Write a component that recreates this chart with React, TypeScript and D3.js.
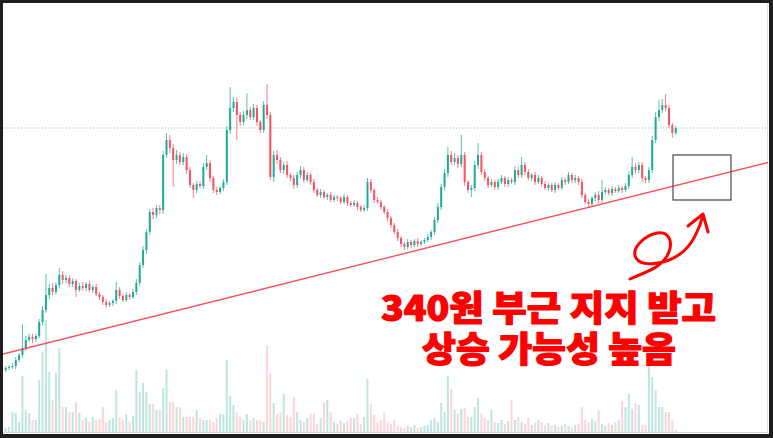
import React from "react";
import * as d3 from "d3";

// ---- data (price units, volume units) ----
const firstOpen = 130;
const closes = [
  132,133,134,140,145,152,160,163,161,164,
  178,190,205,212,208,215,225,220,222,216,
  219,210,214,212,216,210,213,206,203,198,
  195,197,199,210,204,200,205,203,208,217,
  235,250,268,288,285,292,290,345,360,352,
  340,345,338,343,330,315,310,316,314,333,
  337,322,310,308,312,318,370,392,398,385,
  378,385,390,383,392,378,370,395,385,323,
  345,340,330,335,325,322,315,325,330,320,
  325,318,310,305,308,303,305,300,303,302,
  298,303,297,295,297,293,290,292,318,310,
  300,298,293,288,282,275,268,262,256,253,
  258,255,259,256,258,260,263,268,280,293,
  313,327,345,338,342,336,345,318,310,312,
  335,345,328,322,315,318,313,318,322,316,
  320,318,330,325,335,328,322,325,318,322,
  316,312,315,310,315,312,320,318,325,320,
  322,318,305,298,296,302,305,300,308,310,
  307,311,309,312,310,314,325,333,330,335,
  322,320,330,360,383,390,395,392,375,367,
  372,
];
const wickUp = [
  2,2,3,3,2,24,4,3,3,2,
  3,4,21,4,5,3,7,4,3,3,
  3,2,3,4,2,3,2,3,2,2,
  3,2,2,8,3,2,3,2,3,4,
  3,4,3,3,4,3,3,4,7,5,
  4,5,3,4,3,3,2,3,3,4,
  8,3,2,3,2,3,4,21,5,4,
  3,4,17,3,4,3,2,4,21,3,
  4,5,3,3,4,2,3,3,4,3,
  3,2,3,2,3,2,2,3,2,2,
  2,3,2,2,3,2,2,3,4,3,
  2,3,2,2,3,2,2,3,2,2,
  3,2,2,3,2,2,3,2,3,4,
  3,4,8,4,5,3,20,3,2,3,
  4,12,3,3,2,3,2,3,3,2,
  3,2,4,3,8,3,3,2,3,3,
  2,3,2,2,3,2,3,2,3,2,
  3,2,3,2,3,2,3,4,12,3,
  2,3,2,3,2,3,4,10,4,3,
  3,2,3,4,5,10,6,11,3,2,
  2,
];
const wickDown = [
  2,2,2,3,2,3,3,2,4,3,
  2,3,3,4,3,3,3,4,3,3,
  3,7,2,3,3,2,3,2,3,3,
  3,2,3,3,3,2,2,3,2,3,
  3,3,4,3,4,3,4,4,3,5,
  27,4,3,3,4,3,8,3,2,3,
  3,4,3,3,2,3,3,4,4,25,
  4,3,4,3,3,4,3,3,4,3,
  5,4,3,4,3,3,4,3,3,3,
  2,3,3,2,3,2,3,2,2,3,
  2,2,3,2,2,3,2,2,3,3,
  3,2,3,2,3,3,2,3,3,3,
  2,3,2,3,2,2,2,3,3,3,
  3,3,4,3,3,4,3,4,3,7,
  3,4,3,3,3,2,3,3,2,3,
  3,2,3,3,3,3,2,3,3,2,
  3,2,3,2,3,2,2,3,2,3,
  3,3,3,2,3,2,3,3,3,2,
  2,3,2,2,3,2,3,3,4,3,
  4,3,3,3,3,4,3,3,3,5,
  2,
];
const volumes = [
  4,5,20,19,10,56,22,19,12,12,
  52,80,112,60,32,59,84,25,25,20,
  20,30,19,12,14,10,15,12,13,25,
  10,12,14,42,15,12,18,10,16,62,
  40,49,40,28,28,22,22,44,62,30,
  30,25,25,15,15,15,15,22,14,12,
  12,12,10,14,18,18,72,36,27,20,
  15,12,18,12,14,12,12,10,87,59,
  29,18,20,38,17,15,35,20,12,10,
  14,18,18,8,14,30,32,20,10,8,
  12,9,11,14,14,18,8,15,53,28,
  17,10,12,20,10,8,12,6,5,4,
  6,5,7,4,5,6,7,12,14,10,
  29,20,56,43,22,18,23,24,15,15,
  25,34,18,14,12,22,10,9,12,8,
  11,32,12,15,10,8,14,7,9,12,
  10,7,9,6,7,5,6,8,6,5,
  7,8,25,12,10,13,11,22,8,6,
  9,7,10,12,31,25,38,23,29,27,
  7,7,70,55,42,25,25,20,20,12,
  2,
];
// drawings (bar index, price)
const trendIdx = [-0.8, 228.1];
const trendPrice = [146, 338];
const boxIdx = [199.2, 216.5];
const boxPrice = [345, 300];
const noteLines = ["340원 부근 지지 받고", "상승 가능성 높음"];

const W = 773;
const H = 438;
const UP = "#22ab94";
const DOWN = "#f7525f";

export default function App() {
  const N = closes.length;
  const x = d3.scaleLinear().domain([0, N - 1]).range([5.7, 675.7]);
  const y = d3.scaleLinear().domain([100, 500]).range([400, 0]);
  const yv = d3.scaleLinear().domain([0, 100]).range([432, 332]);

  const candles = closes.map((c, i) => {
    const o = i === 0 ? firstOpen : closes[i - 1];
    const hi = Math.max(o, c) + wickUp[i];
    const lo = Math.min(o, c) - wickDown[i];
    return { i, o, c, hi, lo, up: c >= o, v: volumes[i] };
  });
  const last = candles[N - 1];

  const trendLine = d3.line<number>()
    .x((_, k) => x(trendIdx[k]))
    .y((p) => y(p))(trendPrice) as string;

  return (
    <div>
      <style>{`body{margin:0;} svg{display:block;}`}</style>
      <svg width={W} height={H} xmlns="http://www.w3.org/2000/svg">
        <rect x={0} y={0} width={W} height={H} fill="#1e1e1e" />
        <defs>
          <clipPath id="plot">
            <rect x={3} y={3} width={765} height={429} />
          </clipPath>
        </defs>
        <rect x={3} y={3} width={766} height={431} fill="#ffffff" />
        <line x1={3} x2={768} y1={432.5} y2={432.5} stroke="#d6d6d6" strokeWidth={1} />
        <line x1={767.5} x2={767.5} y1={3} y2={432} stroke="#e0e0e0" strokeWidth={1} />
        <g clipPath="url(#plot)">
          {/* volume */}
          {candles.map((d) => (
            <rect
              key={"v" + d.i}
              x={x(d.i) - 1}
              y={yv(d.v)}
              width={2}
              height={yv(0) - yv(d.v)}
              fill={d.up ? UP : DOWN}
              opacity={d.up ? 0.3 : 0.25}
            />
          ))}
          {/* last price line */}
          <line
            x1={3}
            x2={767}
            y1={y(last.c)}
            y2={y(last.c)}
            stroke={UP}
            strokeOpacity={0.7}
            strokeWidth={1}
            strokeDasharray="1 2"
          />
          {/* candles */}
          {candles.map((d) => {
            const cx = x(d.i);
            const top = y(Math.max(d.o, d.c));
            const h = Math.max(1, Math.abs(y(d.o) - y(d.c)));
            const col = d.up ? UP : DOWN;
            return (
              <g key={"c" + d.i}>
                <line x1={cx} x2={cx} y1={y(d.hi)} y2={y(d.lo)} stroke={col} strokeWidth={1} strokeOpacity={0.75} />
                <rect x={cx - 1} y={top} width={2} height={h} fill={col} />
              </g>
            );
          })}
          {/* trend line */}
          <path d={trendLine} stroke="#f23645" strokeOpacity={0.85} strokeWidth={1.4} fill="none" />
          {/* box */}
          <rect
            x={x(boxIdx[0])}
            y={y(boxPrice[0])}
            width={x(boxIdx[1]) - x(boxIdx[0])}
            height={y(boxPrice[1]) - y(boxPrice[0])}
            fill="none"
            stroke="#555555"
            strokeWidth={1.3}
          />
        </g>
        {/* hand drawn arrow */}
        <g fill="none" stroke="#ff0000" strokeWidth={3} strokeLinecap="round" strokeLinejoin="round">
          <path d="M630,279 C646,272 660,268 667,256 C674,243 670,231 657,233 C643,236 631,249 636,258 C641,267 665,265 680,254 C692,246 700,228 703,215" />
          <path d="M688,226 L703,214 L708,232" />
        </g>
        {/* annotation */}
        <g fill="#ff0000" stroke="#ff0000" strokeWidth={1.2} strokeLinejoin="round" fontFamily="'Noto Sans CJK KR', sans-serif" fontWeight={900} fontSize={35}>
          <text x={381} y={321} textLength={335} lengthAdjust="spacingAndGlyphs">{noteLines[0]}</text>
          <text x={422} y={362} textLength={254} lengthAdjust="spacingAndGlyphs">{noteLines[1]}</text>
        </g>
      </svg>
    </div>
  );
}
